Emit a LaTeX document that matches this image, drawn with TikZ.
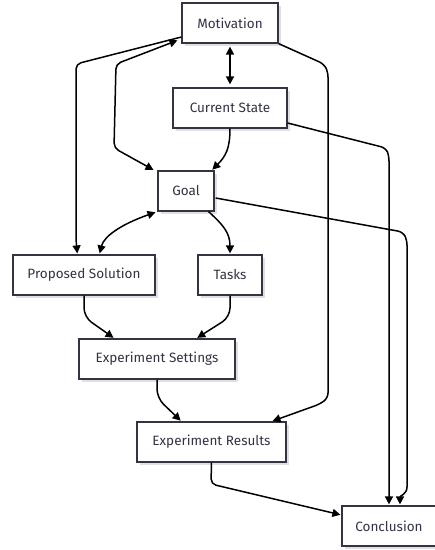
\documentclass[tikz,border=0pt]{standalone}
\usepackage{fontspec}
\setmainfont{Fira Sans}
\usetikzlibrary{arrows.meta,calc,shadows}
\definecolor{boxc}{HTML}{333344}
\definecolor{txtc}{HTML}{333344}
\begin{document}
\begin{tikzpicture}[x=1pt,y=-1pt,
  box/.style={draw=boxc, line width=1.2pt, fill=white, minimum height=40pt, inner sep=0pt,
    font=\fontsize{13.5}{15}\selectfont, text=txtc,
    drop shadow={shadow xshift=2.5pt, shadow yshift=-2.5pt, fill=black!12, opacity=1}},
  conn/.style={line width=1.5pt, draw=black, -{Triangle[length=8pt,width=8pt]}, rounded corners=5pt, shorten >=1pt},
  both/.style={{Triangle[length=8pt,width=8pt]}-{Triangle[length=8pt,width=8pt]}, shorten <=1pt}]
\useasboundingbox (0,0) rectangle (435,550);
\node[box, minimum width=96pt]  (mot)  at (230,23)   {Motivation};
\node[box, minimum width=114pt] (cs)   at (230,108)  {Current State};
\node[box, minimum width=56pt]  (goal) at (186,191)  {Goal};
\node[box, minimum width=142pt] (ps)   at (84,275)   {Proposed Solution};
\node[box, minimum width=64pt]  (tasks) at (230,275) {Tasks};
\node[box, minimum width=156pt] (es)   at (157,359)  {Experiment Settings};
\node[box, minimum width=149pt] (er)   at (211.5,442) {Experiment Results};
\node[box, minimum width=94pt]  (conc) at (389,526)  {Conclusion};

% Motivation <-> Current State
\draw[conn, both, shorten <=3pt, shorten >=3pt] (mot.south) -- (cs.north);
% Motivation -> Proposed Solution
\draw[conn] ($(mot.west)+(0,14)$) -- (76,64) -- (76,240) -- ($(ps.north west)+(65,0)$);
% Goal <-> Motivation
\draw[conn, both] ($(mot.west)+(-3,17)$) -- (116,64) -- (114,148) -- ($(goal.north west)+(-3,0)$);
% Current State -> Goal
\draw[conn] (cs.south) .. controls (230,148) and (226,156) .. ($(goal.north east)+(-3,0)$);
% Current State -> Conclusion
\draw[conn] ($(cs.east)+(0,15)$) -- (386,148) -- (389,156) -- (conc.north);
% Motivation -> Experiment Results
\draw[conn] (mot.south east) -- (324,64) -- (328,72) -- (328,398) -- (320,404) -- ($(er.north east)+(-15,0)$);
% Goal -> Conclusion
\draw[conn] ($(goal.east)+(1,7)$) -- (403,232) -- (407,240) -- (407,482) .. controls (407,494) and (400,496) .. ($(conc.north)+(11,0)$);
% Goal <-> Proposed Solution
\draw[conn, both, shorten >=2pt] ($(ps.north west)+(87,0)$) .. controls (104,236) and (122,224) .. (goal.south west);
% Goal -> Tasks
\draw[conn] ($(goal.south east)+(-6,0)$) .. controls (222,224) and (230,232) .. (tasks.north);
% Proposed Solution -> Experiment Settings
\draw[conn, rounded corners=9pt] (ps.south) -- (84,317) -- ($(es.north west)+(36,0)$);
% Tasks -> Experiment Settings
\draw[conn, rounded corners=9pt] (tasks.south) -- (230,317) -- ($(es.north west)+(118,0)$);
% Experiment Settings -> Experiment Results
\draw[conn, rounded corners=9pt] (es.south) -- (157,398) -- ($(er.north west)+(45,0)$);
% Experiment Results -> Conclusion
\draw[conn] (er.south) -- (211,484) -- ($(conc.west)+(0,-11)$);
\end{tikzpicture}
\end{document}
